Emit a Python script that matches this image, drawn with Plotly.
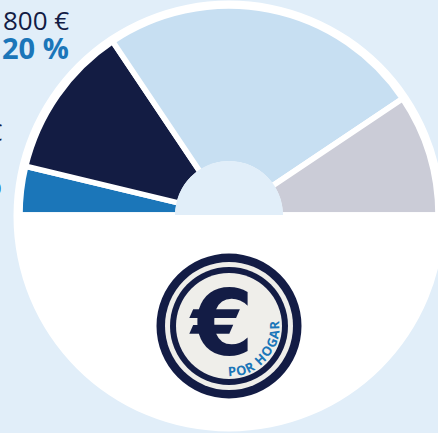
import math
import plotly.graph_objects as go

W, H = 438, 433

# ---- data (upper half of the pie) ----
categories = ["Azul", "Marino", "Celeste", "Gris"]
values = [7.5, 23.7, 50.0, 18.8]
colors = ["#1b76b9", "#131c43", "#c7dff2", "#cbccd7"]

label_amounts = ["800 €", "300 €"]
label_shares = ["20 %", "8 %"]
coin_text = "POR HOGAR"

BG = "#e1eef9"
WHITE = "#ffffff"
NAVY = "#131c45"
BLUE = "#1b76b9"
COIN = "#efeeea"


def px_x(x):
    return min(1.0, x / W)


def px_y(y):
    return 1 - y / H


# pie geometry (pixels)
cx, cy, R = 229, 215, 209
hole_r = 54

fig = go.Figure()

# main semicircle pie: real slices + white lower half
fig.add_trace(go.Pie(
    labels=categories + ["_rest"],
    values=values + [sum(values)],
    marker=dict(colors=colors + [WHITE], line=dict(color=WHITE, width=5.5)),
    sort=False,
    direction="clockwise",
    rotation=-90,
    hole=(hole_r - 3) / R,
    textinfo="none",
    hoverinfo="skip",
    showlegend=False,
    domain=dict(x=[px_x(cx - R), px_x(cx + R)], y=[px_y(cy + R), px_y(cy - R)]),
))

# centre: top half background colour, bottom half white
fig.add_trace(go.Pie(
    labels=["top", "bottom"],
    values=[1, 1],
    marker=dict(colors=[BG, WHITE], line=dict(width=0)),
    sort=False,
    direction="clockwise",
    rotation=-90,
    textinfo="none",
    hoverinfo="skip",
    showlegend=False,
    domain=dict(x=[px_x(cx - hole_r), px_x(cx + hole_r)],
                y=[px_y(cy + hole_r), px_y(cy - hole_r)]),
))

shapes = []
# white disc behind the pie
wr, wcx, wcy = 215.5, 229, 216
shapes.append(dict(type="circle", xref="paper", yref="paper", layer="below",
                   x0=(wcx - wr) / W, x1=(wcx + wr) / W,
                   y0=px_y(wcy + wr), y1=px_y(wcy - wr),
                   fillcolor=WHITE, line=dict(width=0)))

# coin
ccx, ccy = 229, 326
for r, col in [(72.5, NAVY), (64, COIN), (59, NAVY), (53, COIN)]:
    shapes.append(dict(type="circle", xref="paper", yref="paper", layer="above",
                       x0=(ccx - r) / W, x1=(ccx + r) / W,
                       y0=px_y(ccy + r), y1=px_y(ccy - r),
                       fillcolor=col, line=dict(width=0)))

annotations = []
annotations.append(dict(text="<b>€</b>", x=px_x(221), y=px_y(323), xref="paper", yref="paper",
                        showarrow=False, xanchor="center", yanchor="middle",
                        font=dict(family="DejaVu Sans", size=90, color=NAVY)))

# curved "POR HOGAR" (positions from approximate glyph widths)
widths = {"P": 0.68, "O": 0.8, "R": 0.7, " ": 0.35, "H": 0.78, "G": 0.78, "A": 0.74}
rt = 45.5
wl = [widths[c] for c in coin_text]
centers = []
acc = 0
for w in wl:
    centers.append(acc + w / 2)
    acc += w
span0, span1 = 86, -1
first, last = centers[0], centers[-1]
for ch, c in zip(coin_text, centers):
    if ch == " ":
        continue
    th = span0 + (c - first) / (last - first) * (span1 - span0)
    t = math.radians(th)
    annotations.append(dict(text="<b>" + ch + "</b>",
                            x=px_x(ccx + rt * math.cos(t)), y=px_y(ccy + rt * math.sin(t)),
                            xref="paper", yref="paper", showarrow=False,
                            xanchor="center", yanchor="middle", textangle=th - 90,
                            font=dict(family="Open Sans", size=13, color=BLUE)))

# labels (cut by the frame)
annotations.append(dict(text=label_amounts[0], x=px_x(70), y=px_y(20), xref="paper", yref="paper",
                        showarrow=False, xanchor="right", yanchor="middle", borderpad=0,
                        font=dict(family="Open Sans", size=26, color=NAVY)))
annotations.append(dict(text="<b>" + label_shares[0] + "</b>", x=px_x(70), y=px_y(48), xref="paper", yref="paper",
                        showarrow=False, xanchor="right", yanchor="middle", borderpad=0,
                        font=dict(family="Open Sans", size=29, color=BLUE)))
annotations.append(dict(text=label_amounts[1], x=px_x(4), y=px_y(131), xref="paper", yref="paper",
                        showarrow=False, xanchor="right", yanchor="middle",
                        font=dict(family="Open Sans", size=24, color=NAVY)))
annotations.append(dict(text="<b>" + label_shares[1] + "</b>", x=px_x(4), y=px_y(184), xref="paper", yref="paper",
                        showarrow=False, xanchor="right", yanchor="middle",
                        font=dict(family="Open Sans", size=28, color=BLUE)))

fig.update_layout(
    width=W, height=H,
    margin=dict(l=0, r=0, t=0, b=0),
    paper_bgcolor=BG, plot_bgcolor=BG,
    shapes=shapes, annotations=annotations,
    showlegend=False,
)

fig.write_html("out.html", config={"displayModeBar": False},
               post_script="document.body.style.margin='0';document.body.style.overflow='hidden';")
